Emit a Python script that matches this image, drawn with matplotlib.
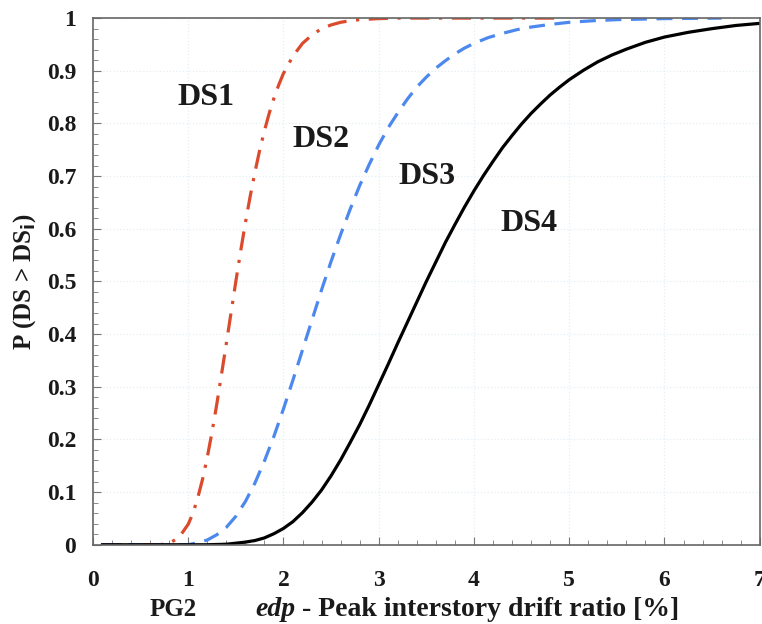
import numpy as np
import matplotlib.pyplot as plt
from matplotlib.ticker import MultipleLocator

# values
ds1_x = [0.1, 0.7, 0.8, 0.9, 1.0, 1.05, 1.1, 1.15, 1.2, 1.25, 1.3, 1.35, 1.4, 1.45,
         1.5, 1.55, 1.6, 1.65, 1.7, 1.75, 1.8, 1.85, 1.9, 1.95, 2.0, 2.1, 2.2,
         2.3, 2.4, 2.5, 2.6, 2.7, 2.8, 2.9, 3.0, 3.2, 3.5, 4.0, 4.9]
ds1_p = [0.0, 0.0, 0.003, 0.013, 0.039, 0.06, 0.089, 0.124, 0.166, 0.214, 0.267,
         0.324, 0.382, 0.441, 0.5, 0.557, 0.611, 0.661, 0.707, 0.749, 0.786,
         0.819, 0.848, 0.873, 0.895, 0.928, 0.952, 0.968, 0.98, 0.987, 0.992,
         0.995, 0.997, 0.998, 0.999, 1.0, 1.0, 1.0, 1.0]

ds2_x = [0.1, 1.0, 1.1, 1.2, 1.3, 1.4, 1.5, 1.6, 1.7, 1.8, 1.9, 2.0, 2.1, 2.2, 2.3,
         2.4, 2.5, 2.6, 2.7, 2.8, 2.9, 3.0, 3.1, 3.2, 3.3, 3.4, 3.5, 3.6, 3.7,
         3.8, 3.9, 4.0, 4.15, 4.3, 4.45, 4.6, 4.8, 5.0, 5.25, 5.5, 5.75, 6.0,
         6.6]
ds2_p = [0.0, 0.0, 0.004, 0.009, 0.019, 0.033, 0.054, 0.082, 0.117, 0.159, 0.206,
         0.258, 0.313, 0.37, 0.427, 0.484, 0.538, 0.589, 0.637, 0.682, 0.722,
         0.759, 0.792, 0.82, 0.846, 0.869, 0.888, 0.905, 0.919, 0.932, 0.943,
         0.952, 0.963, 0.971, 0.978, 0.983, 0.988, 0.992, 0.995, 0.997, 0.998,
         0.999, 1.0]

ds3_x = [0.1, 1.2, 1.4, 1.6, 1.7, 1.8, 1.9, 2.0, 2.1, 2.2, 2.3, 2.4, 2.5, 2.6, 2.7,
         2.8, 2.9, 3.0, 3.1, 3.2, 3.3, 3.4, 3.5, 3.6, 3.7, 3.8, 3.9, 4.0, 4.1,
         4.2, 4.3, 4.4, 4.5, 4.6, 4.7, 4.8, 4.9, 5.0, 5.15, 5.3, 5.45, 5.6, 5.8,
         6.0, 6.25, 6.5, 6.75, 7.0]
ds3_p = [0.0, 0.0, 0.001, 0.005, 0.008, 0.013, 0.021, 0.031, 0.044, 0.061, 0.081,
         0.104, 0.131, 0.161, 0.194, 0.228, 0.265, 0.304, 0.343, 0.383, 0.422,
         0.461, 0.5, 0.537, 0.574, 0.608, 0.641, 0.672, 0.701, 0.728, 0.754,
         0.777, 0.799, 0.819, 0.837, 0.854, 0.869, 0.883, 0.901, 0.917, 0.93,
         0.941, 0.954, 0.964, 0.973, 0.98, 0.986, 0.99]

labels = ["DS1", "DS2", "DS3", "DS4"]
label_x = [1.19, 2.39, 3.51, 4.58]
label_y = [0.85, 0.77, 0.70, 0.61]

serif = ["Liberation Serif", "DejaVu Serif"]
ink = "#1a1a1a"

fig = plt.figure(figsize=(7.62, 6.24), dpi=100)
ax = fig.add_axes([0.122, 0.127, 0.875, 0.844])

lw = 2.3
ax.plot(ds1_x, ds1_p, color="#dc4a2c", lw=lw, linestyle=(0, (6, 3, 1, 3)), zorder=2)
ax.plot(ds2_x, ds2_p, color="#4d88ee", lw=lw, linestyle=(0, (5, 3)), zorder=2)
ax.plot(ds3_x, ds3_p, color="black", lw=lw, zorder=3)

for lab, lx, ly in zip(labels, label_x, label_y):
    ax.text(lx, ly, lab, ha="center", va="center", fontsize=23,
            fontweight="bold", family=serif, color=ink)

ax.set_xlim(0, 7)
ax.set_ylim(0, 1)
ax.xaxis.set_major_locator(MultipleLocator(1))
ax.xaxis.set_minor_locator(MultipleLocator(0.2))
ax.yaxis.set_minor_locator(MultipleLocator(0.02))
ax.set_yticks(np.arange(0, 1.01, 0.1))
ax.set_yticklabels(["0", "0.1", "0.2", "0.3", "0.4", "0.5", "0.6", "0.7", "0.8", "0.9", "1"])

ax.tick_params(which="both", direction="in", top=False, right=False, color="#777777")
ax.tick_params(which="major", length=6)
ax.tick_params(which="minor", length=3.5)
ax.tick_params(axis="x", pad=18)
ax.tick_params(axis="y", pad=12)
for t in ax.get_xticklabels() + ax.get_yticklabels():
    t.set_family(serif)
    t.set_fontweight("bold")
    t.set_fontsize(17)
    t.set_color(ink)

for s in ax.spines.values():
    s.set_color("#666666")
    s.set_linewidth(1.2)
    s.set_zorder(4)

ax.grid(True, which="major", color="#e6eef5", linestyle=":", linewidth=0.9)
ax.set_axisbelow(True)

ax.set_ylabel("P (DS > DS$_\\mathbf{i}$)", family=serif, fontweight="bold",
              fontsize=18, color=ink)
ax.yaxis.set_label_coords(-0.082, 0.5)

fig.text(173 / 762, 1 - 610 / 624, "PG2", ha="center", va="center", family=serif,
         fontweight="bold", fontsize=18, color=ink)
t1 = fig.text(255 / 762, 1 - 610 / 624, "edp", ha="left", va="center", family=serif,
              fontweight="bold", style="italic", fontsize=20, color=ink)
ax.annotate(" - Peak interstory drift ratio [%]", xy=(1, 0), xycoords=t1,
            ha="left", va="bottom", family=serif, fontweight="bold", fontsize=20,
            color=ink, annotation_clip=False)

fig.savefig("out.png", dpi=100)
